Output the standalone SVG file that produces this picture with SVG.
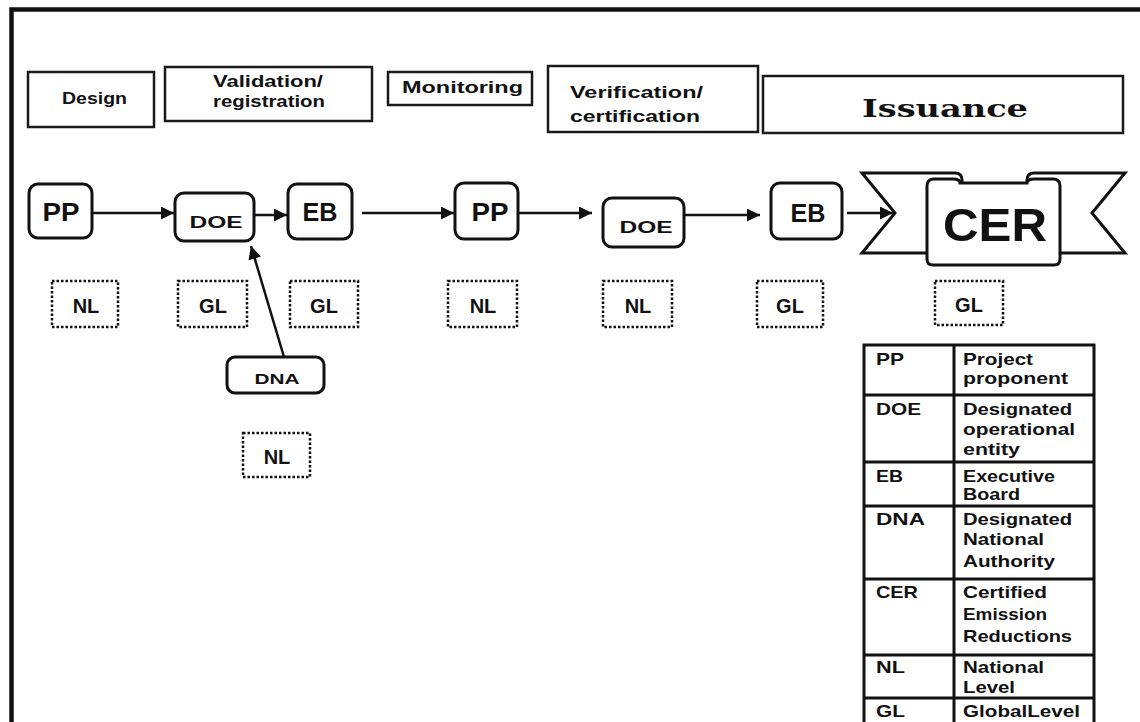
<svg xmlns="http://www.w3.org/2000/svg" width="1140" height="722" viewBox="0 0 1140 722">
<style>
.hd{fill:#fff;stroke:#1a1a1a;stroke-width:2.5}
.ht{font-family:"Liberation Sans",Arial,sans-serif;font-weight:bold;font-size:17px;fill:#111}
.nd{fill:#fff;stroke:#111;stroke-width:3}
.nt{font-family:"Liberation Sans",Arial,sans-serif;font-weight:bold;fill:#111;text-anchor:middle}
.dt{fill:#fff;stroke:#111;stroke-width:2.5;stroke-dasharray:2.5 2}
.lv{font-family:"Liberation Sans",Arial,sans-serif;font-weight:bold;font-size:20px;fill:#111;text-anchor:middle}
.cn{fill:none;stroke:#111;stroke-width:2.5}
.tb{fill:none;stroke:#111;stroke-width:3}
.lt{font-family:"Liberation Sans",Arial,sans-serif;font-weight:bold;font-size:17px;fill:#111}
.bn{fill:#fff;stroke:#111;stroke-width:3;stroke-linejoin:miter}
</style>
<defs>
<marker id="ah" viewBox="0 0 10 10" refX="10" refY="5" markerWidth="16" markerHeight="13" markerUnits="userSpaceOnUse" orient="auto">
<path d="M0,0 L10,5 L0,10 z" fill="#111"/>
</marker>
</defs>
<rect width="1140" height="722" fill="#fff"/>
<!-- frame -->
<path d="M11.5 722 L11.5 9.5 L1140 9.5" fill="none" stroke="#111" stroke-width="4.5"/>

<!-- headers -->
<g id="h-design"><rect class="hd" x="28" y="72" width="126" height="55"/><text class="ht" x="62" y="104" textLength="65" lengthAdjust="spacingAndGlyphs">Design</text></g>
<g id="h-validation"><rect class="hd" x="165" y="67" width="207" height="54"/><text class="ht" x="213" y="87" textLength="110" lengthAdjust="spacingAndGlyphs">Validation/</text><text class="ht" x="213" y="107" textLength="112" lengthAdjust="spacingAndGlyphs">registration</text></g>
<g id="h-monitoring"><rect class="hd" x="388" y="72" width="144" height="33"/><text class="ht" x="402" y="93" textLength="121" lengthAdjust="spacingAndGlyphs">Monitoring</text></g>
<g id="h-verification"><rect class="hd" x="548" y="66" width="210" height="66"/><text class="ht" x="570" y="98" textLength="133" lengthAdjust="spacingAndGlyphs">Verification/</text><text class="ht" x="570" y="122" textLength="130" lengthAdjust="spacingAndGlyphs">certification</text></g>
<g id="h-issuance"><rect class="hd" x="763" y="76" width="360" height="57"/><text x="862" y="117" font-family="'DejaVu Serif','Liberation Serif',serif" font-weight="bold" font-size="25" fill="#111" textLength="166" lengthAdjust="spacingAndGlyphs">Issuance</text></g>

<!-- connectors -->
<g id="connectors">
<line class="cn" x1="92" y1="213" x2="174" y2="213" marker-end="url(#ah)"/>
<line class="cn" x1="254" y1="215" x2="287" y2="215" marker-end="url(#ah)"/>
<line class="cn" x1="362" y1="213" x2="454" y2="213" marker-end="url(#ah)"/>
<line class="cn" x1="518" y1="213" x2="592" y2="213" marker-end="url(#ah)"/>
<line class="cn" x1="684" y1="215" x2="760" y2="215" marker-end="url(#ah)"/>
<line class="cn" x1="847" y1="213" x2="893" y2="213" marker-end="url(#ah)"/>
<line class="cn" x1="284" y1="357" x2="251" y2="246" marker-end="url(#ah)"/>
</g>

<!-- flow nodes -->
<g id="n-pp1"><rect class="nd" x="29" y="184" width="63" height="54" rx="9"/><text class="nt" x="61" y="221" font-size="26" textLength="37" lengthAdjust="spacingAndGlyphs">PP</text></g>
<g id="n-doe1"><rect class="nd" x="175" y="193" width="79" height="48" rx="9"/><text class="nt" x="216" y="228" font-size="17" textLength="53" lengthAdjust="spacingAndGlyphs">DOE</text></g>
<g id="n-eb1"><rect class="nd" x="288" y="184" width="64" height="55" rx="9"/><text class="nt" x="320" y="221" font-size="26" textLength="35" lengthAdjust="spacingAndGlyphs">EB</text></g>
<g id="n-pp2"><rect class="nd" x="455" y="183" width="63" height="56" rx="9"/><text class="nt" x="490" y="221" font-size="26" textLength="37" lengthAdjust="spacingAndGlyphs">PP</text></g>
<g id="n-doe2"><rect class="nd" x="603" y="198" width="81" height="49" rx="9"/><text class="nt" x="646" y="233" font-size="17" textLength="53" lengthAdjust="spacingAndGlyphs">DOE</text></g>
<g id="n-eb2"><rect class="nd" x="771" y="183" width="71" height="56" rx="9"/><text class="nt" x="808" y="222" font-size="26" textLength="35" lengthAdjust="spacingAndGlyphs">EB</text></g>
<g id="n-dna"><rect class="nd" x="227" y="357" width="97" height="36" rx="8"/><text class="nt" x="277" y="384" font-size="15" textLength="45" lengthAdjust="spacingAndGlyphs">DNA</text></g>

<!-- CER banner -->
<g id="n-cer">
<path class="bn" d="M935 253 L862 253 L895 213 L862 173 L955 173 Q962 173 962 180 L962 190"/>
<path class="bn" d="M1052 253 L1125 253 L1092 213 L1125 173 L1034 173 Q1027 173 1027 180 L1027 190"/>
<path class="bn" d="M927 186 Q927 179 934 179 L953 179 Q960 179 960 183 L1027 183 Q1027 179 1034 179 L1053 179 Q1060 179 1060 186 L1060 259 Q1060 265 1054 265 L933 265 Q927 265 927 259 Z"/>
<text class="nt" x="995" y="241" font-size="47" textLength="104" lengthAdjust="spacingAndGlyphs">CER</text>
</g>

<!-- level boxes -->
<g id="l-nl1"><rect class="dt" x="52" y="281" width="66" height="46"/><text class="lv" x="86" y="313">NL</text></g>
<g id="l-gl1"><rect class="dt" x="178" y="281" width="69" height="46"/><text class="lv" x="213" y="313">GL</text></g>
<g id="l-gl2"><rect class="dt" x="290" y="281" width="68" height="46"/><text class="lv" x="324" y="313">GL</text></g>
<g id="l-nl2"><rect class="dt" x="448" y="281" width="69" height="46"/><text class="lv" x="483" y="313">NL</text></g>
<g id="l-nl3"><rect class="dt" x="603" y="281" width="69" height="46"/><text class="lv" x="638" y="313">NL</text></g>
<g id="l-gl3"><rect class="dt" x="757" y="281" width="66" height="46"/><text class="lv" x="790" y="313">GL</text></g>
<g id="l-gl4"><rect class="dt" x="935" y="281" width="68" height="44"/><text class="lv" x="969" y="312">GL</text></g>
<g id="l-nl4"><rect class="dt" x="243" y="433" width="67" height="44"/><text class="lv" x="277" y="464">NL</text></g>

<!-- legend table -->
<g id="legend">
<rect class="tb" x="864" y="345" width="230" height="390"/>
<line class="tb" x1="954" y1="345" x2="954" y2="722"/>
<line class="tb" x1="864" y1="395" x2="1094" y2="395"/>
<line class="tb" x1="864" y1="462" x2="1094" y2="462"/>
<line class="tb" x1="864" y1="506" x2="1094" y2="506"/>
<line class="tb" x1="864" y1="579" x2="1094" y2="579"/>
<line class="tb" x1="864" y1="655" x2="1094" y2="655"/>
<line class="tb" x1="864" y1="698" x2="1094" y2="698"/>
<text class="lt" x="876" y="365" textLength="28" lengthAdjust="spacingAndGlyphs">PP</text>
<text class="lt" x="963" y="365" textLength="70" lengthAdjust="spacingAndGlyphs">Project</text>
<text class="lt" x="963" y="384" textLength="105" lengthAdjust="spacingAndGlyphs">proponent</text>
<text class="lt" x="876" y="415" textLength="45" lengthAdjust="spacingAndGlyphs">DOE</text>
<text class="lt" x="963" y="415" textLength="109" lengthAdjust="spacingAndGlyphs">Designated</text>
<text class="lt" x="963" y="435" textLength="112" lengthAdjust="spacingAndGlyphs">operational</text>
<text class="lt" x="963" y="455" textLength="57" lengthAdjust="spacingAndGlyphs">entity</text>
<text class="lt" x="876" y="482" textLength="27" lengthAdjust="spacingAndGlyphs">EB</text>
<text class="lt" x="963" y="482" textLength="92" lengthAdjust="spacingAndGlyphs">Executive</text>
<text class="lt" x="963" y="500" textLength="57" lengthAdjust="spacingAndGlyphs">Board</text>
<text class="lt" x="876" y="525" textLength="49" lengthAdjust="spacingAndGlyphs">DNA</text>
<text class="lt" x="963" y="525" textLength="109" lengthAdjust="spacingAndGlyphs">Designated</text>
<text class="lt" x="963" y="545" textLength="81" lengthAdjust="spacingAndGlyphs">National</text>
<text class="lt" x="963" y="567" textLength="92" lengthAdjust="spacingAndGlyphs">Authority</text>
<text class="lt" x="876" y="598" textLength="42" lengthAdjust="spacingAndGlyphs">CER</text>
<text class="lt" x="963" y="598" textLength="84" lengthAdjust="spacingAndGlyphs">Certified</text>
<text class="lt" x="963" y="620" textLength="84" lengthAdjust="spacingAndGlyphs">Emission</text>
<text class="lt" x="963" y="642" textLength="109" lengthAdjust="spacingAndGlyphs">Reductions</text>
<text class="lt" x="876" y="673" textLength="29" lengthAdjust="spacingAndGlyphs">NL</text>
<text class="lt" x="963" y="673" textLength="81" lengthAdjust="spacingAndGlyphs">National</text>
<text class="lt" x="963" y="693" textLength="52" lengthAdjust="spacingAndGlyphs">Level</text>
<text class="lt" x="876" y="717" textLength="29" lengthAdjust="spacingAndGlyphs">GL</text>
<text class="lt" x="963" y="717" textLength="117" lengthAdjust="spacingAndGlyphs">GlobalLevel</text>
</g>
</svg>
